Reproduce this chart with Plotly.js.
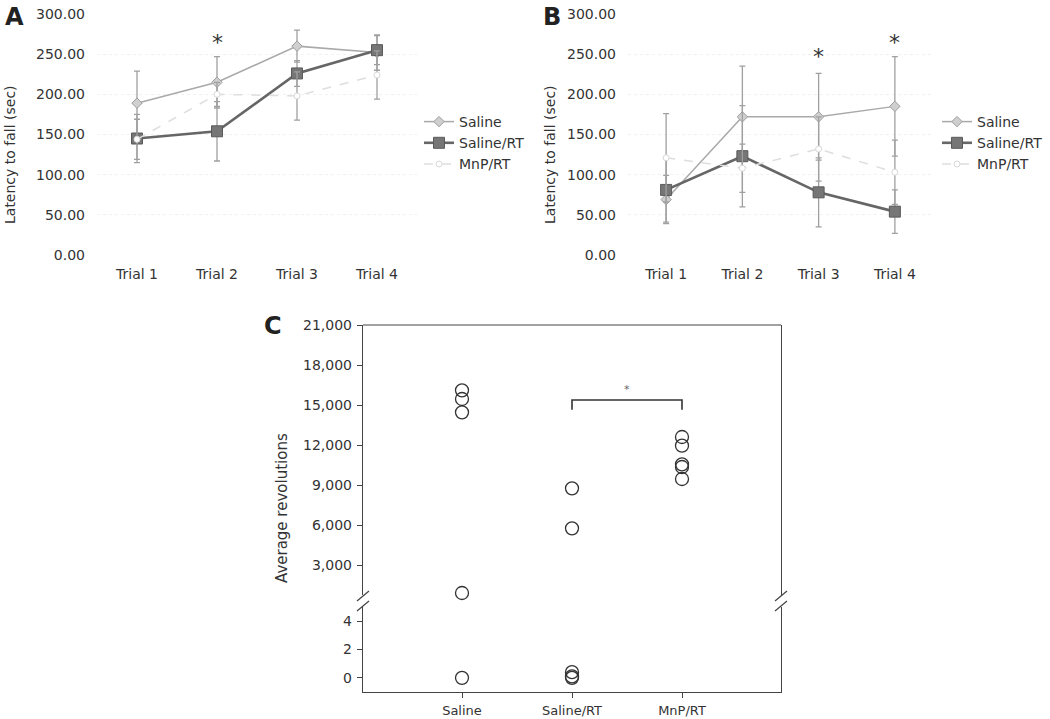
<!DOCTYPE html>
<html>
<head>
<meta charset="utf-8">
<script src="https://cdn.plot.ly/plotly-3.0.1.min.js"></script>
<style>html,body{margin:0;padding:0;background:#fff;}#chart{width:1050px;height:719px;}</style>
</head>
<body>
<div id="chart"></div>
<script>
// ---------- data ----------
const trials = ['Trial 1', 'Trial 2', 'Trial 3', 'Trial 4'];
const latencyTicks = [0, 50, 100, 150, 200, 250, 300];

// Panel A
const salineA = [189, 215, 260, 252];
const salineAErr = [40, 32, 20, 22];
const salineRTA = [145, 154, 226, 255];
const salineRTAErr = [30, 37, 16, 18];
const mnpA = [144, 200, 198, 224];
const mnpAErr = [25, 15, 30, 30];
const starsA = ['Trial 2'];

// Panel B
const salineB = [69, 172, 172, 185];
const salineBErr = [30, 63, 54, 62];
const salineRTB = [81, 123, 78, 54];
const salineRTBErr = [40, 63, 43, 27];
const mnpB = [121, 108, 132, 103];
const mnpBErr = [55, 30, 40, 40];
const starsB = ['Trial 3', 'Trial 4'];

// Panel C
const groups = ['Saline', 'Saline/RT', 'MnP/RT'];
const upperTicks = [3000, 6000, 9000, 12000, 15000, 18000, 21000];
const lowerTicks = [0, 2, 4];
const salineC_high = [16100, 15450, 14450, 900];
const salineC_low = [0];
const salineRTC_high = [8750, 5750];
const salineRTC_low = [0.4, 0.1, 0];
const mnpC_high = [12600, 11950, 10550, 10350, 9450];
const mnpC_low = [];
const bracketLevel = 15375;
const bracketDrop = 14650;

// ---------- helpers ----------
const W = 1050, H = 719;
const fx = p => p / W;
const fy = p => 1 - p / H;
const FONT = 'DejaVu Sans, sans-serif';
const TXT = '#333';

const styles = {
  saline: {line: {color: '#a9a9a9', width: 1.5}, marker: {symbol: 'diamond', size: 8, color: '#cfcfcf', line: {color: '#9d9d9d', width: 1}}},
  salineRT: {line: {color: '#666', width: 2.6}, marker: {symbol: 'square', size: 11, color: '#767676', line: {color: '#5a5a5a', width: 1}}},
  mnp: {line: {color: '#dedede', width: 1.5, dash: 'dash'}, marker: {symbol: 'circle', size: 6, color: '#fff', line: {color: '#d8d8d8', width: 1}}}
};
function err(arr) { return {type: 'data', array: arr, visible: true, color: '#a0a0a0', thickness: 1.3, width: 3}; }
function series(name, y, e, st, xa, ya, leg) {
  return {type: 'scatter', mode: 'lines+markers', name: name, x: trials, y: y, error_y: err(e),
    line: st.line, marker: st.marker, xaxis: xa, yaxis: ya, legend: leg, cliponaxis: false};
}

const traces = [
  series('Saline', salineA, salineAErr, styles.saline, 'x', 'y', 'legend'),
  series('Saline/RT', salineRTA, salineRTAErr, styles.salineRT, 'x', 'y', 'legend'),
  series('MnP/RT', mnpA, mnpAErr, styles.mnp, 'x', 'y', 'legend'),
  series('Saline', salineB, salineBErr, styles.saline, 'x2', 'y2', 'legend2'),
  series('Saline/RT', salineRTB, salineRTBErr, styles.salineRT, 'x2', 'y2', 'legend2'),
  series('MnP/RT', mnpB, mnpBErr, styles.mnp, 'x2', 'y2', 'legend2')
];

const circ = {symbol: 'circle-open', size: 13, color: '#333', line: {width: 1.3}};
function dots(group, vals, ya) {
  return {type: 'scatter', mode: 'markers', x: vals.map(() => group), y: vals, marker: circ,
    xaxis: 'x3', yaxis: ya, showlegend: false, cliponaxis: false, hoverinfo: 'y'};
}
traces.push(
  dots('Saline', salineC_high, 'y3'), dots('Saline', salineC_low, 'y4'),
  dots('Saline/RT', salineRTC_high, 'y3'), dots('Saline/RT', salineRTC_low, 'y4'),
  dots('MnP/RT', mnpC_high, 'y3'), dots('MnP/RT', mnpC_low, 'y4')
);

const tickFont = {family: FONT, size: 14, color: TXT};
function latX(d0, d1) {
  return {domain: [fx(d0), fx(d1)], type: 'category', range: [-0.5, 3.5], showline: false, showgrid: false,
    zeroline: false, ticks: '', tickfont: tickFont, ticklabelstandoff: 9, fixedrange: true};
}
function latY(xa) {
  return {domain: [fy(255), fy(14)], range: [0, 300], tickvals: latencyTicks, tickformat: '.2f',
    showline: false, zeroline: false, showgrid: true, gridcolor: '#f1f1f1', griddash: 'dot', gridwidth: 1,
    ticks: '', tickfont: tickFont, ticklabelstandoff: 11, anchor: xa};
}

const lineCol = '#444';
const cTick = {family: FONT, size: 14, color: TXT};

function paperText(px, py, text, size, angle, color) {
  return {xref: 'paper', yref: 'paper', x: fx(px), y: fy(py), xanchor: 'center', yanchor: 'middle',
    text: text, textangle: angle || 0, showarrow: false, font: {family: FONT, size: size, color: color || TXT}};
}

const annotations = [];
starsA.forEach(t => annotations.push({xref: 'x', yref: 'y', x: t, y: 264, xanchor: 'center', yanchor: 'middle', text: '*', showarrow: false, font: {family: FONT, size: 22, color: TXT}}));
starsB.forEach((t, i) => annotations.push({xref: 'x2', yref: 'y2', x: t, y: [247, 264][i], xanchor: 'center', yanchor: 'middle', text: '*', showarrow: false, font: {family: FONT, size: 22, color: TXT}}));
annotations.push(
  paperText(10, 155, 'Latency to fall (sec)', 14, -90),
  paperText(550, 155, 'Latency to fall (sec)', 14, -90),
  paperText(282, 508, 'Average revolutions', 15, -90),
  paperText(14, 17, '<b>A</b>', 24, 0, '#222'),
  paperText(552, 17, '<b>B</b>', 24, 0, '#222'),
  paperText(273, 326, '<b>C</b>', 24, 0, '#222'),
  {xref: 'x3', yref: 'y3', x: 1.5, y: bracketLevel, yshift: 11, xanchor: 'center', yanchor: 'middle', text: '*', showarrow: false, font: {family: FONT, size: 11, color: '#666'}}
);

const shapes = [
  // top frame line of panel C
  {type: 'line', xref: 'paper', yref: 'paper', x0: fx(363), x1: fx(781), y0: fy(325), y1: fy(325), line: {color: lineCol, width: 1.2}},
  // axis break marks
  {type: 'line', xref: 'paper', yref: 'paper', x0: fx(357), x1: fx(369), y0: fy(601), y1: fy(591), line: {color: lineCol, width: 1.2}},
  {type: 'line', xref: 'paper', yref: 'paper', x0: fx(357), x1: fx(369), y0: fy(611), y1: fy(601), line: {color: lineCol, width: 1.2}},
  {type: 'line', xref: 'paper', yref: 'paper', x0: fx(775), x1: fx(787), y0: fy(601), y1: fy(591), line: {color: lineCol, width: 1.2}},
  {type: 'line', xref: 'paper', yref: 'paper', x0: fx(775), x1: fx(787), y0: fy(611), y1: fy(601), line: {color: lineCol, width: 1.2}},
  // significance bracket
  {type: 'path', xref: 'x3', yref: 'y3',
   path: `M 1 ${bracketDrop} L 1 ${bracketLevel} L 2 ${bracketLevel} L 2 ${bracketDrop}`,
   line: {color: '#333', width: 1.6}}
];

const legendBase = {orientation: 'v', yanchor: 'top', xanchor: 'left', bgcolor: 'rgba(0,0,0,0)',
  font: {family: FONT, size: 14, color: TXT}, itemwidth: 30, tracegroupgap: 0};

const layout = {
  width: W, height: H, margin: {l: 0, r: 0, t: 0, b: 0},
  paper_bgcolor: '#fff', plot_bgcolor: 'rgba(0,0,0,0)',
  font: {family: FONT, color: TXT},
  showlegend: true,
  legend: Object.assign({}, legendBase, {x: fx(419), y: fy(106)}),
  legend2: Object.assign({}, legendBase, {x: fx(937), y: fy(106)}),
  xaxis: latX(97, 417), yaxis: latY('x'),
  xaxis2: latX(628, 933), yaxis2: latY('x2'),
  xaxis3: {domain: [fx(363), fx(781)], type: 'category', range: [-0.9, 2.9], anchor: 'y4',
    showline: true, linecolor: lineCol, linewidth: 1.2, ticks: 'outside', ticklen: 5, tickcolor: lineCol,
    showgrid: false, zeroline: false, tickfont: {family: FONT, size: 13, color: TXT}, ticklabelstandoff: 1},
  yaxis3: {domain: [fy(595), fy(325)], range: [750, 21000], tickvals: upperTicks, tickformat: ',', anchor: 'x3',
    showline: true, mirror: true, linecolor: lineCol, linewidth: 1.2, ticks: 'outside', ticklen: 5, tickcolor: lineCol,
    showgrid: false, zeroline: false, tickfont: cTick, ticklabelstandoff: 2},
  yaxis4: {domain: [fy(692), fy(607)], range: [-1, 5], tickvals: lowerTicks, anchor: 'x3',
    showline: true, mirror: true, linecolor: lineCol, linewidth: 1.2, ticks: 'outside', ticklen: 5, tickcolor: lineCol,
    showgrid: false, zeroline: false, tickfont: cTick, ticklabelstandoff: 2},
  annotations: annotations,
  shapes: shapes
};

Plotly.newPlot('chart', traces, layout, {displayModeBar: false, staticPlot: true});
</script>
</body>
</html>
